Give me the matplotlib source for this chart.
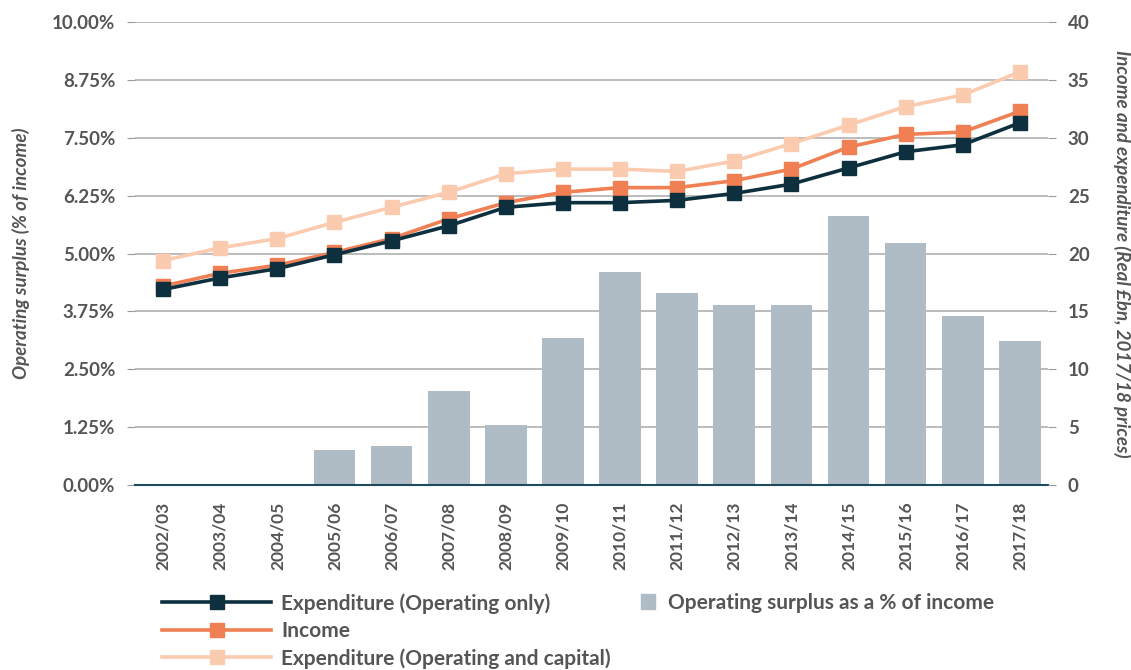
import numpy as np
import matplotlib.pyplot as plt
from matplotlib.ticker import FuncFormatter
from matplotlib.patches import Patch
from matplotlib.lines import Line2D

plt.rcParams['font.family'] = ['Lato', 'DejaVu Sans']

# Dados
anos = ['2002/03', '2003/04', '2004/05', '2005/06', '2006/07', '2007/08', '2008/09',
        '2009/10', '2010/11', '2011/12', '2012/13', '2013/14', '2014/15', '2015/16',
        '2016/17', '2017/18']
superavit = [0.0, 0.0, 0.0, 0.76, 0.84, 2.03, 1.30, 3.17, 4.60, 4.15, 3.89, 3.89,
             5.81, 5.23, 3.65, 3.11]
desp_oper = [16.9, 17.9, 18.7, 19.9, 21.1, 22.4, 24.0, 24.4, 24.4, 24.6, 25.2, 26.0,
             27.4, 28.8, 29.4, 31.3]
receita = [17.2, 18.3, 19.0, 20.1, 21.3, 23.0, 24.4, 25.3, 25.7, 25.7, 26.3, 27.3,
           29.2, 30.3, 30.5, 32.3]
desp_total = [19.4, 20.5, 21.3, 22.7, 24.0, 25.3, 26.9, 27.3, 27.3, 27.1, 28.0, 29.5,
              31.1, 32.7, 33.7, 35.7]

c_navy = '#0d2f3e'
c_laranja = '#f07f53'
c_pessego = '#fbcbb0'
c_barra = '#afbcc5'
c_texto = '#555555'

fig = plt.figure(figsize=(11.31, 6.70), dpi=100)
ax = fig.add_axes([0.119, 0.276, 0.808, 0.691])
ax2 = ax.twinx()

x = np.arange(len(anos))
ax.bar(x, superavit, width=0.73, color=c_barra, zorder=2)
ax.set_ylim(0, 10)
ax.set_yticks(np.arange(0, 10.01, 1.25))
ax.yaxis.set_major_formatter(FuncFormatter(lambda v, p: f'{v:.2f}%'))
ax.set_xlim(-0.5, len(anos) - 0.5)
ax.set_xticks(x)
ax.set_xticklabels(anos, rotation=90)
ax.grid(axis='y', color='#b0b0b0', linewidth=1.2, zorder=0)
ax.set_axisbelow(True)

for s in ['top', 'left', 'right']:
    ax.spines[s].set_visible(False)
    ax2.spines[s].set_visible(False)
ax.spines['bottom'].set_color('#1f4a5e')
ax.spines['bottom'].set_linewidth(1.5)
ax2.spines['bottom'].set_visible(False)

ax.tick_params(axis='y', colors='#999999', labelcolor=c_texto, labelsize=13.5, length=6, pad=8)
ax.tick_params(axis='x', length=0, labelcolor=c_texto, labelsize=12.5, pad=12)
for lbl in ax.get_xticklabels() + ax.get_yticklabels():
    lbl.set_fontweight('bold')

kw = dict(marker='s', markersize=10, linewidth=2.6, zorder=4)
ax2.plot(x, desp_total, color=c_pessego, **kw)
ax2.plot(x, receita, color=c_laranja, **kw)
ax2.plot(x, desp_oper, color=c_navy, **kw)
ax2.set_ylim(0, 40)
ax2.set_yticks(np.arange(0, 41, 5))
ax2.tick_params(axis='y', colors='#999999', labelcolor=c_texto, labelsize=13.5, length=6, pad=8)
for lbl in ax2.get_yticklabels():
    lbl.set_fontweight('bold')

ax.set_ylabel('Operating surplus (% of income)', fontsize=13.5, style='italic',
              fontweight='bold', color=c_texto, labelpad=16)
ax2.set_ylabel('Income and expenditure (Real £bn, 2017/18 prices)', fontsize=13.5,
               style='italic', fontweight='bold', color=c_texto, rotation=270, labelpad=30)

# Legenda
linhas = [
    Line2D([0], [0], color=c_navy, marker='s', markersize=10, linewidth=2.6),
    Line2D([0], [0], color=c_laranja, marker='s', markersize=10, linewidth=2.6),
    Line2D([0], [0], color=c_pessego, marker='s', markersize=10, linewidth=2.6),
]
rotulos = ['Expenditure (Operating only)', 'Income', 'Expenditure (Operating and capital)']
leg1 = fig.legend(linhas, rotulos, loc='upper left', bbox_to_anchor=(0.127, 0.143),
                  frameon=False, handlelength=5.2, handletextpad=0.5,
                  labelspacing=0.35, prop={'size': 15, 'weight': 'bold'})
leg2 = fig.legend([Patch(color=c_barra)], ['Operating surplus as a % of income'],
                  loc='upper left', bbox_to_anchor=(0.55, 0.143), frameon=False,
                  handlelength=0.7, handleheight=0.7, handletextpad=0.6,
                  prop={'size': 15, 'weight': 'bold'})
for leg in [leg1, leg2]:
    for t in leg.get_texts():
        t.set_color(c_texto)

fig.savefig('out.png', dpi=100)
